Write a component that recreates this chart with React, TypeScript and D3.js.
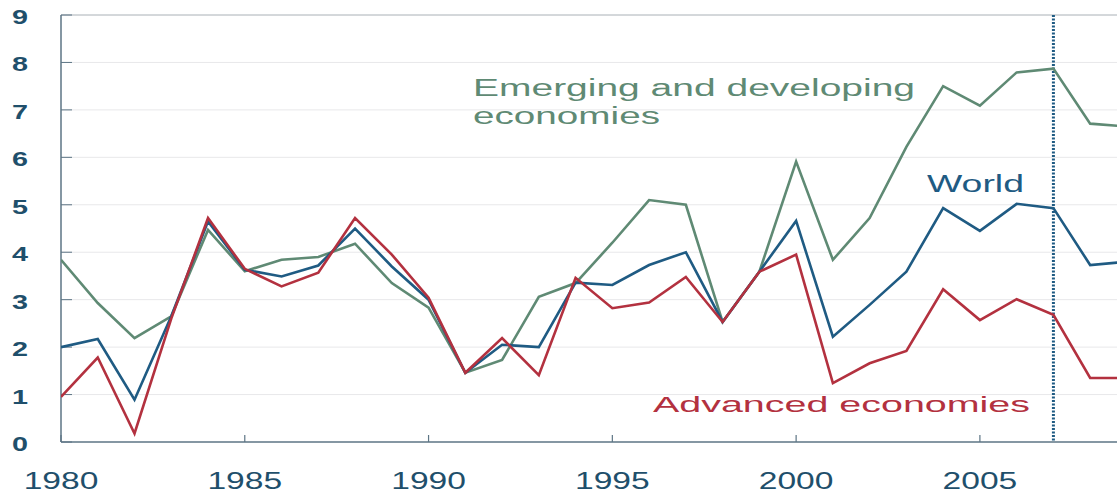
import React from 'react'
import * as d3 from 'd3'

const years = d3.range(1980, 2010)
const world = [2.0, 2.17, 0.89, 2.65, 4.65, 3.63, 3.49, 3.72, 4.5, 3.7, 3.0, 1.46, 2.05, 2.0, 3.36, 3.31, 3.73, 4.0, 2.53, 3.59, 4.66, 2.22, 2.89, 3.59, 4.93, 4.45, 5.02, 4.93, 3.73, 3.8]
const emerging = [3.84, 2.93, 2.19, 2.65, 4.47, 3.6, 3.84, 3.9, 4.18, 3.35, 2.83, 1.46, 1.73, 3.06, 3.35, 4.2, 5.1, 5.0, 2.53, 3.59, 5.91, 3.84, 4.72, 6.22, 7.5, 7.09, 7.79, 7.87, 6.71, 6.65]
const advanced = [0.95, 1.78, 0.18, 2.6, 4.72, 3.65, 3.28, 3.57, 4.72, 3.95, 3.04, 1.46, 2.19, 1.41, 3.46, 2.82, 2.94, 3.48, 2.53, 3.59, 3.95, 1.24, 1.66, 1.92, 3.22, 2.57, 3.01, 2.68, 1.35, 1.35]
const yTicks = d3.range(0, 10)
const xTicks = [1980, 1985, 1990, 1995, 2000, 2005]
const markerYear = 2007

const W = 1117
const H = 495
const left = 61
const top = 15
const bottom = 442

const axisColor = '#5d7585'
const labelColor = '#1f4f6b'
const greenColor = '#5f8a74'
const blueColor = '#1f5b83'
const redColor = '#b3313f'

export default function App() {
  const x = d3.scaleLinear().domain([1980, 2008.73]).range([left, W])
  const y = d3.scaleLinear().domain([0, 9]).range([bottom, top])

  const line = (vals: number[]) =>
    d3.line<number>().x((_, i) => x(years[i])).y((d) => y(d))(vals) || ''

  const font = '"Liberation Sans", Arial, sans-serif'

  return (
    <svg width={W} height={H} style={{ position: 'absolute', left: 0, top: 0, background: '#fff' }} fontFamily={font}>
      <defs>
        <clipPath id="plot">
          <rect x={left} y={0} width={W - left} height={bottom + 2} />
        </clipPath>
      </defs>

      {/* grid */}
      {yTicks.filter((t) => t > 0 && t < 9).map((t) => (
        <line key={t} x1={left} x2={W} y1={y(t)} y2={y(t)} stroke="#e8e8ea" strokeWidth={1} />
      ))}
      <line x1={left} x2={W} y1={y(9)} y2={y(9)} stroke="#a9b0b6" strokeWidth={1} />

      {/* axes */}
      <line x1={left} x2={left} y1={top} y2={bottom} stroke={axisColor} strokeWidth={1.5} />
      <line x1={left} x2={W} y1={bottom} y2={bottom} stroke={axisColor} strokeWidth={1.5} />
      {yTicks.map((t) => (
        <line key={'yt' + t} x1={left} x2={left + 11} y1={y(t)} y2={y(t)} stroke={axisColor} strokeWidth={1} />
      ))}
      {xTicks.map((t) => (
        <line key={'xt' + t} x1={x(t)} x2={x(t)} y1={bottom} y2={bottom - 7} stroke={axisColor} strokeWidth={1.2} />
      ))}

      {/* y labels */}
      {yTicks.map((t) => (
        <text key={'yl' + t} transform={`translate(20,${y(t) + 9}) scale(1.37,1)`} textAnchor="middle"
          fontSize={21} fontWeight="bold" fill={labelColor}>{t}</text>
      ))}
      {/* x labels */}
      {xTicks.map((t) => (
        <text key={'xl' + t} transform={`translate(${x(t)},489) scale(1.4,1)`} textAnchor="middle"
          fontSize={24} fill={labelColor}>{t}</text>
      ))}

      {/* 2007 marker */}
      <line x1={x(markerYear)} x2={x(markerYear)} y1={top} y2={bottom} stroke={blueColor}
        strokeWidth={3} strokeDasharray="2 1.5" />

      <g clipPath="url(#plot)" fill="none" strokeWidth={2.6} strokeLinejoin="miter">
        <path d={line(emerging)} stroke={greenColor} />
        <path d={line(world)} stroke={blueColor} />
        <path d={line(advanced)} stroke={redColor} />
      </g>

      {/* annotations */}
      <text x={473} y={96} fontSize={23} fill={greenColor} textLength={442} lengthAdjust="spacingAndGlyphs">Emerging and developing</text>
      <text x={473} y={124} fontSize={23} fill={greenColor} textLength={187} lengthAdjust="spacingAndGlyphs">economies</text>
      <text x={927} y={192} fontSize={23} fill={blueColor} textLength={97} lengthAdjust="spacingAndGlyphs">World</text>
      <text x={653} y={412} fontSize={22} fill={redColor} textLength={377} lengthAdjust="spacingAndGlyphs">Advanced economies</text>
    </svg>
  )
}
